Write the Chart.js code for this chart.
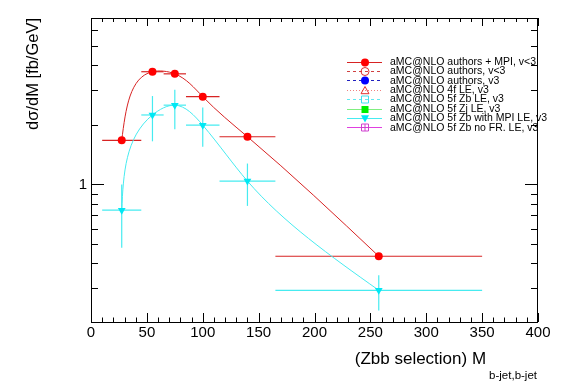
<!DOCTYPE html>
<html>
<head>
<meta charset="utf-8">
<script src="https://cdn.jsdelivr.net/npm/chart.js@4.4.1/dist/chart.umd.min.js"></script>
<style>
html,body{margin:0;padding:0;background:#fff;}
#wrap{width:567px;height:384px;position:relative;}
</style>
</head>
<body>
<div id="wrap"><canvas id="c" width="567" height="384"></canvas></div>
<script>
// ---- data ----
const binCenters = [27.5, 55, 75, 100, 140, 257.5];
const binLow     = [10, 45, 65, 85, 115, 165];
const binHigh    = [45, 65, 85, 115, 165, 350];
const redValues  = [1.67, 3.70, 3.61, 2.77, 1.74, 0.435];
const cyanValues = [0.742, 2.24, 2.51, 1.99, 1.04, 0.293];
const cyanErrLow  = [0.48, 1.65, 1.90, 1.55, 0.78, 0.232];
const cyanErrHigh = [1.00, 2.79, 3.00, 2.44, 1.275, 0.349];
const xTickValues = [0, 50, 100, 150, 200, 250, 300, 350, 400];
const yTickValues = [0.3, 0.4, 0.5, 0.6, 0.7, 0.8, 0.9, 1, 2, 3, 4, 5, 6];
const yLabelValues = [1];
const legendLabels = [
  'aMC@NLO authors + MPI, v<3',
  'aMC@NLO authors, v<3',
  'aMC@NLO authors, v3',
  'aMC@NLO 4f LE, v3',
  'aMC@NLO 5f Zb LE, v3',
  'aMC@NLO 5f Zj LE, v3',
  'aMC@NLO 5f Zb with MPI LE, v3',
  'aMC@NLO 5f Zb no FR. LE, v3'
];
const xTitle = '(Zbb selection) M';
const xTitleSub = 'b-jet,b-jet';
const yTitle = 'dσ/dM [fb/GeV]';

const RED_LINE = 'rgb(215,35,35)';
const RED_MARK = '#ff0000';
const CYAN_LINE = 'rgb(70,235,240)';
const CYAN_MARK = '#00e8f4';
const FONT = '"Liberation Sans", Arial, sans-serif';

function pts(vals){ return binCenters.map((x,i)=>({x:x, y:vals[i]})); }

const legendStyles = [
  {line:RED_LINE, dash:[], marker:'circle', fill:true, mcolor:RED_MARK},
  {line:'#d04040', dash:[3,3], marker:'circle', fill:false, mcolor:'#e03030'},
  {line:'#2020c0', dash:[3,3], marker:'circle', fill:true, mcolor:'#0000ff'},
  {line:'#f08080', dash:[1,2], marker:'triangle', fill:false, mcolor:'#e03030'},
  {line:'#60e8f0', dash:[3,3], marker:'square', fill:false, mcolor:'#40e0f0'},
  {line:'#80ee80', dash:[], marker:'square', fill:true, mcolor:'#00ee00'},
  {line:CYAN_LINE, dash:[], marker:'triangleDown', fill:true, mcolor:CYAN_MARK},
  {line:'#e040e0', dash:[], marker:'squarePlus', fill:false, mcolor:'#d040d0'}
];

const datasets = legendLabels.map((lab, i) => ({
  label: lab, data: [], showLine: false, pointRadius: 0,
  borderColor: legendStyles[i].line
}));
datasets[0] = {
  label: legendLabels[0], data: pts(redValues), showLine: true, smoothSpline: true,
  borderColor: RED_LINE, borderWidth: 1, tension: 0.4,
  pointStyle: 'circle', pointRadius: 4, pointBackgroundColor: RED_MARK,
  pointBorderColor: RED_MARK, pointBorderWidth: 0, order: 1
};
datasets[6] = {
  label: legendLabels[6], data: pts(cyanValues), showLine: true, smoothSpline: true,
  borderColor: CYAN_LINE, borderWidth: 1, tension: 0.4,
  pointStyle: 'triangle', rotation: 180, pointRadius: 4.5,
  pointBackgroundColor: CYAN_MARK, pointBorderColor: CYAN_MARK, pointBorderWidth: 0, order: 2
};

// parametric natural cubic spline (chord-length) -> bezier control points,
// applied to the pixel positions that Chart.js computed for the points
function applyNaturalSpline(points){
  const n = points.length;
  if (n < 3) return;
  const h = [];
  for (let i=0;i<n-1;i++){
    h.push(Math.max(1e-6, Math.hypot(points[i+1].x-points[i].x, points[i+1].y-points[i].y)));
  }
  function solve(coord){
    const P = points.map(p=>p[coord]);
    const a = new Array(n).fill(0), b = new Array(n).fill(1), c = new Array(n).fill(0), d = new Array(n).fill(0);
    for (let i=1;i<n-1;i++){
      a[i] = h[i-1]; b[i] = 2*(h[i-1]+h[i]); c[i] = h[i];
      d[i] = 6*((P[i+1]-P[i])/h[i] - (P[i]-P[i-1])/h[i-1]);
    }
    for (let i=1;i<n;i++){ const m = a[i]/b[i-1]; b[i] -= m*c[i-1]; d[i] -= m*d[i-1]; }
    const M = new Array(n).fill(0);
    M[n-1] = d[n-1]/b[n-1];
    for (let i=n-2;i>=0;i--) M[i] = (d[i]-c[i]*M[i+1])/b[i];
    const Dl = [], Dr = [];
    for (let i=0;i<n-1;i++){
      const s = (P[i+1]-P[i])/h[i];
      Dl[i] = s - h[i]*(2*M[i]+M[i+1])/6;
      Dr[i+1] = s + h[i]*(M[i]+2*M[i+1])/6;
    }
    return {Dl, Dr};
  }
  const X = solve('x'), Y = solve('y');
  for (let i=0;i<n;i++){
    const p = points[i];
    if (i < n-1){ p.cp2x = p.x + h[i]*X.Dl[i]/3; p.cp2y = p.y + h[i]*Y.Dl[i]/3; }
    else { p.cp2x = p.x; p.cp2y = p.y; }
    if (i > 0){ p.cp1x = p.x - h[i-1]*X.Dr[i]/3; p.cp1y = p.y - h[i-1]*Y.Dr[i]/3; }
    else { p.cp1x = p.x; p.cp1y = p.y; }
  }
}

function drawMarker(ctx, kind, x, y, color, fill){
  ctx.save();
  ctx.strokeStyle = color; ctx.fillStyle = color; ctx.lineWidth = 1; ctx.setLineDash([]);
  ctx.beginPath();
  const r = 4;
  if (kind === 'circle') { ctx.arc(x, y, r, 0, Math.PI*2); }
  else if (kind === 'triangle') { ctx.moveTo(x, y-r); ctx.lineTo(x+r, y+r*0.8); ctx.lineTo(x-r, y+r*0.8); ctx.closePath(); }
  else if (kind === 'triangleDown') { ctx.moveTo(x, y+r); ctx.lineTo(x+r, y-r*0.8); ctx.lineTo(x-r, y-r*0.8); ctx.closePath(); }
  else { ctx.rect(x-r+0.5, y-r+0.5, 2*r-1, 2*r-1); }
  if (fill) ctx.fill(); else ctx.stroke();
  if (kind === 'squarePlus') {
    ctx.beginPath(); ctx.moveTo(x-r+0.5, y); ctx.lineTo(x+r-0.5, y); ctx.moveTo(x, y-r+0.5); ctx.lineTo(x, y+r-0.5); ctx.stroke();
  }
  ctx.restore();
}

const rootPlugin = {
  id: 'rootStyle',
  beforeDatasetDraw(chart, args){
    const meta = args.meta;
    const ds = chart.data.datasets[args.index];
    if (ds.smoothSpline && meta.dataset && meta.data.length > 2){
      meta.dataset.updateControlPoints(chart.chartArea, 'x');
      applyNaturalSpline(meta.data);
      meta.dataset._path = undefined;
    }
  },
  beforeDatasetsDraw(chart){
    const ctx = chart.ctx, xs = chart.scales.x, ys = chart.scales.y, a = chart.chartArea;
    ctx.save();
    ctx.beginPath(); ctx.rect(a.left, a.top, a.right-a.left, a.bottom-a.top); ctx.clip();
    ctx.lineWidth = 1.2;
    ctx.strokeStyle = RED_LINE;
    for (let i=0;i<binCenters.length;i++){
      const y = ys.getPixelForValue(redValues[i]);
      ctx.beginPath(); ctx.moveTo(xs.getPixelForValue(binLow[i]), y); ctx.lineTo(xs.getPixelForValue(binHigh[i]), y); ctx.stroke();
    }
    ctx.strokeStyle = CYAN_LINE;
    for (let i=0;i<binCenters.length;i++){
      const y = ys.getPixelForValue(cyanValues[i]);
      const x = xs.getPixelForValue(binCenters[i]);
      ctx.beginPath(); ctx.moveTo(xs.getPixelForValue(binLow[i]), y); ctx.lineTo(xs.getPixelForValue(binHigh[i]), y); ctx.stroke();
      ctx.beginPath(); ctx.moveTo(x, ys.getPixelForValue(cyanErrLow[i])); ctx.lineTo(x, ys.getPixelForValue(cyanErrHigh[i])); ctx.stroke();
    }
    ctx.restore();
  },
  afterDraw(chart){
    const ctx = chart.ctx, xs = chart.scales.x, ys = chart.scales.y, a = chart.chartArea;
    ctx.save();
    ctx.strokeStyle = '#000'; ctx.lineWidth = 1;
    ctx.strokeRect(Math.round(a.left)+0.5, Math.round(a.top)+0.5, Math.round(a.right-a.left)-1, Math.round(a.bottom-a.top));
    ctx.beginPath();
    for (let v=0; v<=400; v+=10){
      const x = Math.round(xs.getPixelForValue(v))+0.5;
      const major = xTickValues.includes(v);
      const lb = major ? 9 : 4.5, lt = major ? 8 : 4;
      ctx.moveTo(x, a.bottom); ctx.lineTo(x, a.bottom - lb);
      ctx.moveTo(x, a.top); ctx.lineTo(x, a.top + lt);
    }
    yTickValues.forEach(v=>{
      const y = Math.round(ys.getPixelForValue(v))+0.5;
      const L = yLabelValues.includes(v) ? 13 : 7;
      ctx.moveTo(a.left, y); ctx.lineTo(a.left + L, y);
      ctx.moveTo(a.right, y); ctx.lineTo(a.right - L, y);
    });
    ctx.stroke();
    // axis titles
    ctx.fillStyle = '#000';
    ctx.textAlign = 'right'; ctx.textBaseline = 'alphabetic';
    ctx.font = '11.5px ' + FONT;
    const subW = ctx.measureText(xTitleSub).width;
    ctx.fillText(xTitleSub, 537, 379);
    ctx.font = '17px ' + FONT;
    ctx.fillText(xTitle, 537 - subW - 3, 364);
    ctx.save();
    ctx.translate(38, 18);
    ctx.rotate(-Math.PI/2);
    ctx.font = '16.5px ' + FONT;
    ctx.textAlign = 'right';
    ctx.fillText(yTitle, 0, 0);
    ctx.restore();
    // legend
    ctx.font = '10.5px ' + FONT;
    ctx.textAlign = 'left'; ctx.textBaseline = 'middle';
    chart.data.datasets.forEach((ds, i) => {
      const st = legendStyles[i];
      const y = 61.5 + i*9.4;
      ctx.save();
      ctx.strokeStyle = st.line; ctx.lineWidth = 1; ctx.setLineDash(st.dash);
      ctx.beginPath(); ctx.moveTo(347, Math.round(y)+0.5); ctx.lineTo(382, Math.round(y)+0.5); ctx.stroke();
      ctx.restore();
      drawMarker(ctx, st.marker, 365, Math.round(y)+0.5, st.mcolor, st.fill);
      ctx.fillStyle = '#000';
      ctx.fillText(ds.label, 390, y+0.5);
    });
    ctx.restore();
  }
};

new Chart(document.getElementById('c'), {
  type: 'scatter',
  data: { datasets: datasets },
  options: {
    responsive: false, animation: false, devicePixelRatio: 1,
    layout: { padding: { left: 0, right: 29, top: 18, bottom: 0 } },
    plugins: { legend: { display: false }, tooltip: { enabled: false } },
    scales: {
      x: {
        type: 'linear', min: 0, max: 400,
        grid: { display: false, drawTicks: false }, border: { display: false },
        afterFit(s){ s.height = 62; },
        afterBuildTicks(s){ s.ticks = xTickValues.map(v=>({value:v})); },
        ticks: { autoSkip: false, maxRotation: 0, padding: 2, color: '#000',
          font: { family: FONT, size: 15 },
          callback: v => String(v) }
      },
      y: {
        type: 'logarithmic', min: 0.2028, max: 6.9,
        grid: { display: false, drawTicks: false }, border: { display: false },
        afterFit(s){ s.width = 91; },
        afterBuildTicks(s){ s.ticks = yTickValues.map(v=>({value:v})); },
        ticks: { autoSkip: false, padding: 4, color: '#000',
          font: { family: FONT, size: 15 },
          callback: v => (yLabelValues.includes(v) ? String(v) : '') }
      }
    }
  },
  plugins: [rootPlugin]
});
</script>
</body>
</html>
